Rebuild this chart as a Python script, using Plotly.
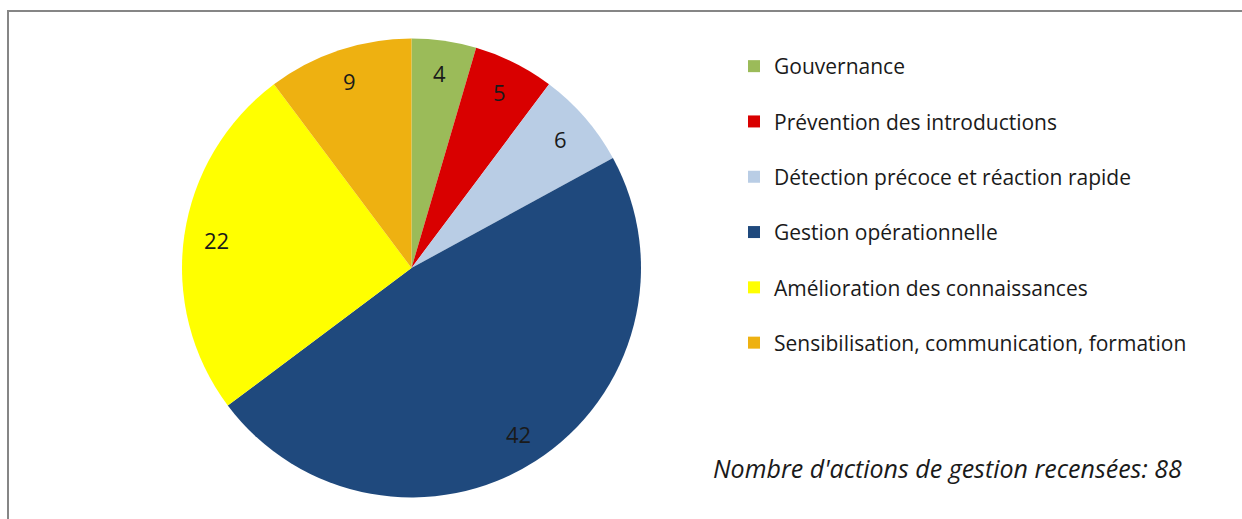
import math
import plotly.graph_objects as go

# Management actions by category
categories = [
    "Gouvernance",
    "Prévention des introductions",
    "Détection précoce et réaction rapide",
    "Gestion opérationnelle",
    "Amélioration des connaissances",
    "Sensibilisation, communication, formation",
]
counts = [4, 5, 6, 42, 22, 9]
colors = ["#9BBB59", "#D90000", "#B9CDE5", "#1F497D", "#FFFF00", "#EEB111"]
total_label = "Nombre d'actions de gestion recensées: 88"

W, H = 1242, 519
FONT = "Open Sans"
TEXT = "#1a1a1a"

# Pie placement (paper fractions)
dom_x = [182 / W, 641 / W]
dom_y = [(H - 497.5) / H, (H - 38.5) / H]

fig = go.Figure()
fig.add_trace(go.Pie(
    labels=categories,
    values=counts,
    sort=False,
    direction="clockwise",
    rotation=0,
    marker=dict(colors=colors, line=dict(width=0)),
    textinfo="none",
    hoverinfo="label+value",
    showlegend=False,
    domain=dict(x=dom_x, y=dom_y),
))

# Value labels placed along each slice's mid-angle
cx = (dom_x[0] + dom_x[1]) / 2 * W
cy = (dom_y[0] + dom_y[1]) / 2 * H
radius = min((dom_x[1] - dom_x[0]) * W, (dom_y[1] - dom_y[0]) * H) / 2
total = sum(counts)
cum = 0
for v in counts:
    mid = (cum + v / 2) / total * 2 * math.pi
    cum += v
    r = radius * 0.86
    px = cx + r * math.sin(mid)
    py = cy + r * math.cos(mid)
    fig.add_annotation(
        x=px / W, y=py / H, xref="paper", yref="paper",
        text=str(v), showarrow=False,
        font=dict(family=FONT, size=22, color=TEXT),
        xanchor="center", yanchor="middle",
    )

# Legend entries, one group per category for even spacing
for name, col in zip(categories, colors):
    fig.add_trace(go.Scatter(
        x=[None], y=[None], mode="markers", name=name,
        legendgroup=name,
        marker=dict(symbol="square", size=12, color=col),
        hoverinfo="skip",
    ))

fig.add_annotation(
    x=1184 / W, y=(H - 468) / H, xref="paper", yref="paper",
    text=f"<i>{total_label}</i>", showarrow=False,
    font=dict(family=FONT, size=25, color=TEXT),
    xanchor="right", yanchor="middle",
)

# Outer frame
fig.add_shape(
    type="rect", xref="paper", yref="paper",
    x0=8 / W, x1=1.01, y0=-0.01, y1=(H - 11) / H,
    line=dict(color="#868686", width=2),
)

fig.update_layout(
    width=W, height=H,
    margin=dict(l=0, r=0, t=0, b=0),
    paper_bgcolor="white",
    plot_bgcolor="white",
    xaxis=dict(visible=False),
    yaxis=dict(visible=False),
    legend=dict(
        x=734 / W, y=(H - 46) / H, xanchor="left", yanchor="top",
        font=dict(family=FONT, size=21, color=TEXT),
        tracegroupgap=25,
        bgcolor="rgba(0,0,0,0)",
    ),
)

fig.write_html("out.html")
